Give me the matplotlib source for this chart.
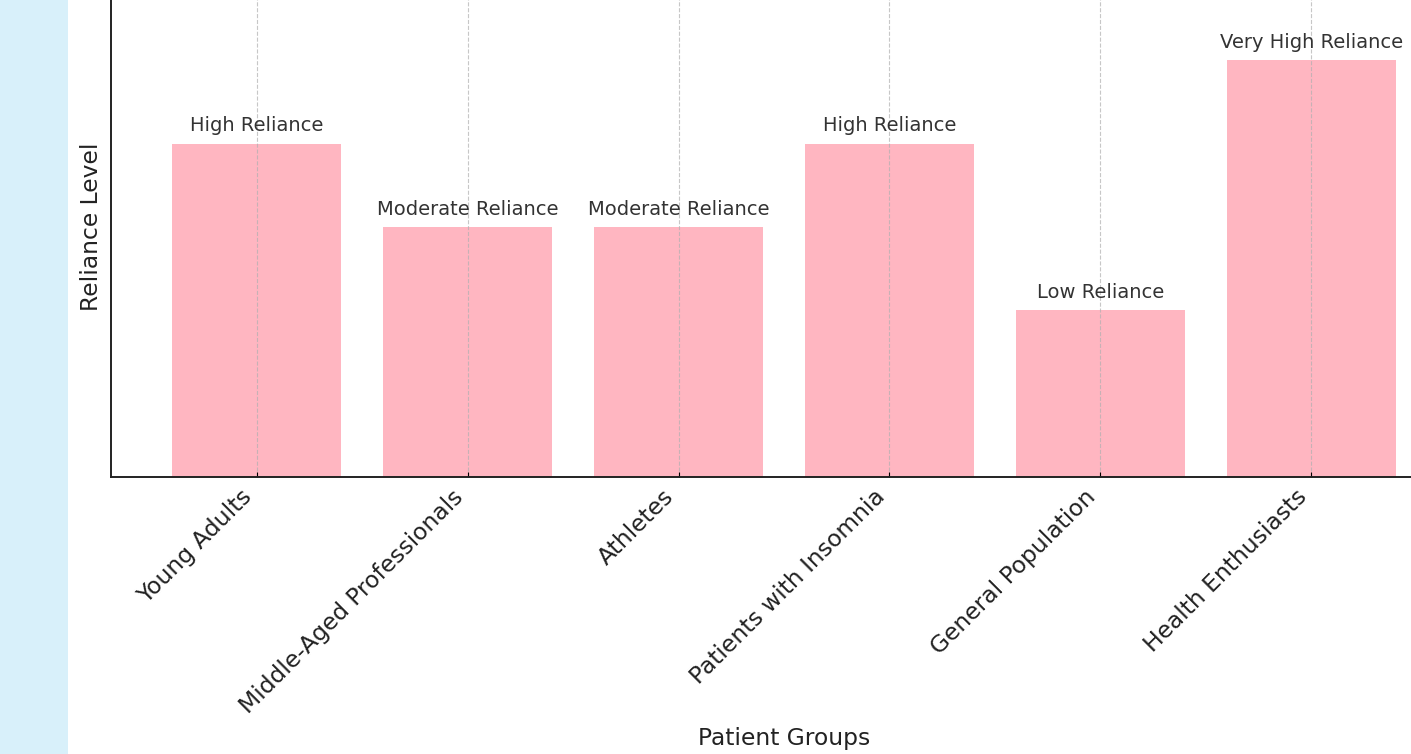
import matplotlib
matplotlib.use('Agg')
import matplotlib.pyplot as plt
from matplotlib.patches import Rectangle

groups = ['Young Adults', 'Middle-Aged Professionals', 'Athletes',
          'Patients with Insomnia', 'General Population', 'Health Enthusiasts']
levels = ['High Reliance', 'Moderate Reliance', 'Moderate Reliance',
          'High Reliance', 'Low Reliance', 'Very High Reliance']
level_value = {'Low Reliance': 2, 'Moderate Reliance': 3,
               'High Reliance': 4, 'Very High Reliance': 5}
values = [level_value[l] for l in levels]

fig = plt.figure(figsize=(14.11, 7.54), dpi=100)
# light blue strip on the left edge
fig.patches.append(Rectangle((0, 0), 68 / 1411, 1, transform=fig.transFigure,
                             facecolor='#d8f0fa', edgecolor='none', zorder=0))

# axes extends past the top/right of the picture (reference is a crop)
ax = fig.add_axes([111 / 1411, 277 / 754, 1346 / 1411, 500 / 754])
bars = ax.bar(groups, values, color='#ffb6c1', width=0.8)
for b, lab in zip(bars, levels):
    ax.text(b.get_x() + b.get_width() / 2, b.get_height() + 0.1, lab,
            ha='center', va='bottom', fontsize=14, color='#333333')

ax.set_ylim(0, 6)
ax.set_yticks([])
ax.set_xlabel('Patient Groups', fontsize=16.8, color='#222222', labelpad=7)
ax.set_ylabel('Reliance Level', fontsize=16.8, color='#222222', labelpad=6)
ax.tick_params(axis='x', direction='in', labelsize=16.8, labelcolor='#222222', pad=6)
plt.setp(ax.get_xticklabels(), rotation=45, ha='right')
ax.grid(axis='x', linestyle='--', color='#b0b0b0', alpha=0.7)
for s in ax.spines.values():
    s.set_linewidth(1.4)
    s.set_color('#222222')

fig.savefig('out.png', dpi=100)
